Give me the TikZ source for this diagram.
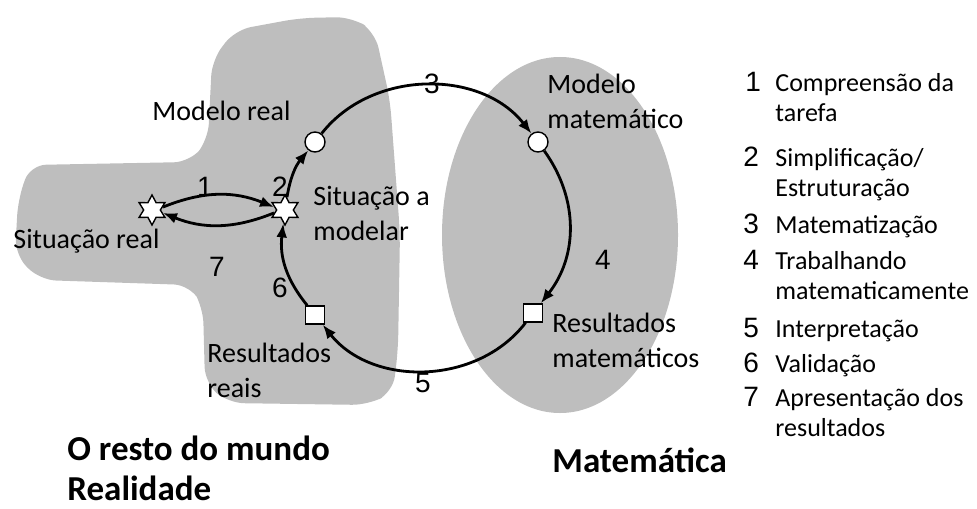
\documentclass[tikz,border=0pt]{standalone}
\usepackage{fontspec}
\setmainfont{Carlito}
\newfontfamily\numfont{Liberation Sans}
\usepackage{tikz}
\usetikzlibrary{arrows.meta}
\usetikzlibrary{shapes.geometric}

\begin{document}
\begin{tikzpicture}[x=0.5pt,y=0.5pt,
   area/.style={fill={rgb,255:red,190;green,190;blue,190}},
   flow/.style={line width=1.4pt,-{Latex[length=7pt,width=5.5pt]}},
   situation/.style={draw,fill=white,star,star points=6,star point ratio=1.8,minimum size=15pt,inner sep=0pt,line width=0.7pt},
   model/.style={draw,fill=white,circle,minimum size=10pt,inner sep=0pt,line width=0.7pt},
   result/.style={draw,fill=white,rectangle,minimum width=9.5pt,minimum height=9pt,inner sep=0pt,line width=0.7pt},
   caption/.style={anchor=base west,inner sep=0pt,align=left,font=\fontsize{14}{17.5}\selectfont},
   stepnum/.style={inner sep=0pt,font=\numfont\fontsize{14}{14}\selectfont},
   title/.style={anchor=base west,inner sep=0pt,align=left,font=\bfseries\fontsize{17.5}{20}\selectfont},
   legnum/.style={anchor=base west,inner sep=0pt,font=\numfont\fontsize{14}{14}\selectfont},
   legtext/.style={anchor=base west,inner sep=0pt,align=left,font=\fontsize{13}{15}\selectfont}]
\useasboundingbox (0,0) rectangle (977,-508);
\fill[area,rounded corners=8pt] (18,-200) -- (30,-165) -- (190,-162) -- (208,-140) -- (212,-60)
   -- (235,-30) -- (300,-18) -- (352,-17) -- (375,-32) -- (390,-100) -- (400,-233) -- (398,-350)
   -- (393,-392) -- (368,-405) -- (228,-403) -- (205,-383) -- (203,-307) -- (190,-285)
   -- (40,-280) -- (15,-255) -- cycle;
\fill[area] (560,-235) ellipse [x radius=118,y radius=178];

\node[situation] (sr) at (152,-210) {};
\node[situation] (sam) at (285,-210) {};
\node[model] (mr) at (315,-142) {};
\node[model] (mm) at (538,-142) {};
\node[result] (rm) at (533,-313) {};
\node[result] (rr) at (315,-315) {};

\draw[flow] (sr.15) to[bend left=22] (sam.165);
\draw[flow] (sam.-165) to[bend left=22] (sr.-15);
\draw[flow] (sam) to[bend left=15] (mr);
\draw[flow] (mr) to[bend left=52] (mm);
\draw[flow] (mm) to[bend left=37] (rm);
\draw[flow] (rm) to[bend left=52] (rr);
\draw[flow] (rr) to[bend left=23] (sam);

\node[stepnum] (n1) at (205,-187) {1};
\node[stepnum] (n2) at (280,-187) {2};
\node[stepnum] (n3) at (432,-84) {3};
\node[stepnum] (n4) at (603,-260) {4};
\node[stepnum] (n5) at (423,-383) {5};
\node[stepnum] (n6) at (280,-288) {6};
\node[stepnum] (n7) at (217,-267) {7};

\node[caption] (mrl) at (152,-120) {Modelo real};
\node[caption] (srl) at (13,-248) {Situação real};
\node[caption] (saml) at (313,-240) {Situação a\\modelar};
\node[caption] (mml) at (547,-128) {Modelo\\matemático};
\node[caption] (rml) at (552,-367) {Resultados\\matemáticos};
\node[caption] (rrl) at (207,-397) {Resultados\\reais};

\node[title] (world) at (67,-500) {O resto do mundo\\Realidade};
\node[title] (math) at (552,-472) {Matemática};

\node[legnum] (l1) at (745,-91) {1};
\node[legtext] (t1) at (775,-121) {Compreensão da\\tarefa};
\node[legnum] (l2) at (743,-166) {2};
\node[legtext] (t2) at (775,-196) {Simplificação/\\Estruturação};
\node[legnum] (l3) at (743,-233) {3};
\node[legtext] (t3) at (775,-233) {Matematização};
\node[legnum] (l4) at (743,-269) {4};
\node[legtext] (t4) at (775,-299) {Trabalhando\\matematicamente};
\node[legnum] (l5) at (743,-337) {5};
\node[legtext] (t5) at (775,-337) {Interpretação};
\node[legnum] (l6) at (743,-372) {6};
\node[legtext] (t6) at (775,-372) {Validação};
\node[legnum] (l7) at (743,-406) {7};
\node[legtext] (t7) at (775,-436) {Apresentação dos\\resultados};
\end{tikzpicture}
\end{document}
